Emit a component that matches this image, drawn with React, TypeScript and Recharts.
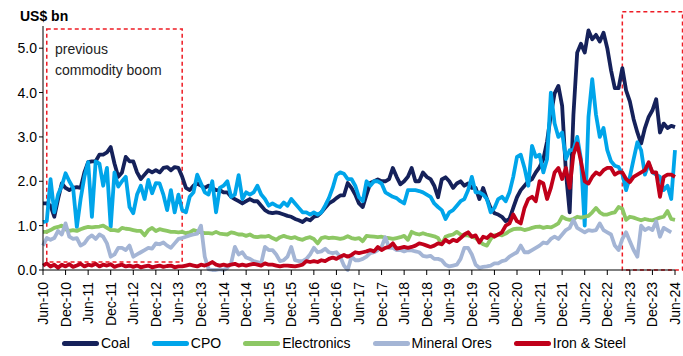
import React from 'react';
import { LineChart, Line, XAxis, YAxis, ReferenceArea } from 'recharts';

// Monthly exports, Jun-10 .. Jun-24 (169 months), US$ bn
const tickLabels = [
  'Jun-10', 'Dec-10', 'Jun-11', 'Dec-11', 'Jun-12', 'Dec-12', 'Jun-13', 'Dec-13', 'Jun-14', 'Dec-14',
  'Jun-15', 'Dec-15', 'Jun-16', 'Dec-16', 'Jun-17', 'Dec-17', 'Jun-18', 'Dec-18', 'Jun-19', 'Dec-19',
  'Jun-20', 'Dec-20', 'Jun-21', 'Dec-21', 'Jun-22', 'Dec-22', 'Jun-23', 'Dec-23', 'Jun-24',
];

const coal = [
  1.5, 1.5, 1.45, 1.2, 1.6, 1.95, 1.85, 1.8, 1.85, 1.87,
  1.85, 2.2, 2.43, 2.45, 2.45, 2.6, 2.6, 2.65, 2.77, 2.4,
  2.1, 2.2, 2.55, 2.45, 2.45, 2.2, 2.05, 2.15, 2.25, 2.2,
  2.25, 2.2, 2.3, 2.32, 2.25, 2.32, 2.3, 2.1, 1.85, 1.8,
  1.9, 1.95, 1.9, 1.85, 1.9, 1.85, 1.8, 1.8, 1.75, 1.75,
  1.65, 1.6, 1.55, 1.5, 1.55, 1.6, 1.55, 1.55, 1.45, 1.35,
  1.3, 1.28, 1.3, 1.28, 1.25, 1.22, 1.2, 1.15, 1.12, 1.08,
  1.15, 1.12, 1.2, 1.22, 1.3, 1.4, 1.5, 1.55, 1.62, 1.68,
  1.68, 1.96, 1.85, 1.7, 1.5, 1.42, 1.7, 1.96, 2.0, 2.04,
  2.0, 2.0, 2.05, 2.3, 2.1, 1.93, 2.0, 2.1, 2.3, 2.0,
  2.0, 2.2, 2.1, 2.05, 1.9, 1.64, 2.04, 2.09, 2.0, 1.85,
  1.95, 2.0, 1.9, 1.95, 1.85, 1.85, 1.6, 1.85, 1.6, 1.4,
  1.28, 1.25, 1.2, 1.1, 1.15, 1.4, 1.64, 1.8, 1.9, 2.0,
  2.05, 2.2, 2.32, 2.5, 2.9, 3.5, 3.98, 4.15, 3.7, 2.2,
  1.3, 3.5, 4.9, 5.1, 4.9, 5.4, 5.2, 5.3, 5.15, 5.35,
  5.0, 4.5, 4.1, 4.1, 4.55, 4.05, 3.8, 3.4, 3.1, 2.85,
  3.2, 3.45, 3.6, 3.85, 3.1, 3.3, 3.2, 3.25, 3.22,
];

const cpo = [
  1.08, 1.1, 2.05, 1.3, 1.7, 1.9, 2.18, 2.0, 1.85, 0.97,
  1.6, 2.1, 2.43, 1.2, 2.45, 2.4, 1.9, 2.3, 0.97, 2.2,
  1.88, 2.0, 2.1, 1.42, 1.28, 1.7, 1.9, 1.6, 2.03, 1.73,
  1.96, 1.95, 1.7, 1.35, 1.8, 1.3, 1.7, 1.35, 1.3, 1.65,
  1.75, 2.15, 1.95, 1.75, 1.7, 2.0, 1.3, 1.85, 1.9, 2.0,
  1.65, 1.7, 2.14, 1.6, 1.75, 1.7, 1.75, 1.9, 1.7, 1.6,
  1.45, 1.5, 1.45, 1.42, 1.52, 1.45, 1.6, 1.5, 1.4, 1.3,
  1.3, 1.25, 1.3, 1.25, 1.3, 1.45, 1.62, 1.85, 2.14, 2.2,
  2.17, 2.05, 2.05, 1.9, 1.64, 1.55, 2.0, 1.9, 2.0, 2.0,
  1.95, 1.75, 1.7, 1.65, 1.62, 1.55, 1.5, 1.8, 1.8, 1.8,
  1.78, 1.75, 1.7, 1.65, 1.5, 1.42, 1.35, 1.15, 1.3, 1.35,
  1.45, 1.55, 1.6, 1.8, 2.1, 1.75, 1.75, 1.7, 1.6, 1.3,
  1.4, 1.6, 1.65, 1.55, 1.75, 2.1, 2.55, 2.6, 2.3, 1.9,
  2.8, 2.55, 2.6, 2.2, 2.5, 4.0, 3.3, 3.0, 3.1, 2.5,
  2.7, 2.7, 3.0, 2.5, 1.0, 3.45, 4.3, 3.5, 3.0, 3.2,
  2.7, 2.45, 2.35, 2.32, 2.17, 1.8, 2.1, 2.5, 2.88, 2.7,
  2.15, 2.4, 2.2, 2.15, 2.1, 1.8, 1.9, 1.6, 2.7,
];

const electronics = [
  0.86, 0.86, 0.9, 0.95, 0.97, 1.0, 0.92,
  0.88, 0.9, 0.88, 0.92, 0.95, 0.97,
  0.96, 0.97, 0.98, 1.0, 0.95, 0.9,
  0.9, 0.88, 0.95, 0.93, 0.92, 0.9,
  0.88, 0.88, 0.78, 0.9, 0.95, 0.88,
  0.92, 0.9, 0.88, 0.86, 0.86, 0.85,
  0.86, 0.83, 0.85, 0.9, 0.87, 0.85,
  0.83, 0.83, 0.82, 0.86, 0.82, 0.81,
  0.8, 0.85, 0.83, 0.8, 0.8, 0.77,
  0.8, 0.75, 0.74, 0.76, 0.75, 0.77,
  0.72, 0.68, 0.74, 0.77, 0.74, 0.72,
  0.74, 0.7, 0.68, 0.72, 0.74, 0.7,
  0.6, 0.72, 0.74, 0.72, 0.73, 0.72,
  0.7, 0.72, 0.76, 0.72, 0.7, 0.72,
  0.65, 0.77, 0.76, 0.75, 0.74, 0.75,
  0.73, 0.72, 0.7, 0.72, 0.74, 0.77,
  0.68, 0.86, 0.82, 0.8, 0.83, 0.8,
  0.78, 0.76, 0.72, 0.58, 0.75, 0.78,
  0.8, 0.86, 0.8, 0.78, 0.78, 0.75,
  0.72, 0.65, 0.58, 0.55, 0.7, 0.78,
  0.8, 0.78, 0.82, 0.88, 0.92, 0.93,
  0.93, 0.9, 0.92, 0.95, 0.97, 0.98,
  0.95, 0.97, 0.96, 1.0, 1.05, 1.2,
  1.15, 1.13, 1.15, 1.2, 1.18, 1.2,
  1.22, 1.3, 1.4, 1.3, 1.25, 1.25,
  1.28, 1.3, 1.42, 1.38, 1.13, 1.2,
  1.18, 1.15, 1.12, 1.15, 1.13, 1.12,
  1.15, 1.18, 1.2, 1.33, 1.15, 1.13,
];

const mineralOres = [
  0.55, 0.72, 0.68, 0.72, 0.88, 0.8, 1.05, 0.75, 0.7, 0.72,
  0.55, 0.6, 0.72, 0.78, 0.7, 0.8, 0.75, 0.6, 0.3, 0.35,
  0.5, 0.5, 0.45, 0.55, 0.3, 0.35, 0.4, 0.45, 0.5, 0.48,
  0.6, 0.58, 0.62, 0.55, 0.5, 0.6, 0.7, 0.72, 0.75, 0.78,
  0.8, 0.82, 1.0, 0.3, 0.02, 0.0, 0.0, 0.02, 0.0, 0.05,
  0.15, 0.52, 0.35, 0.4, 0.28, 0.25, 0.2, 0.18, 0.15, 0.52,
  0.45, 0.45, 0.35, 0.2, 0.22, 0.3, 0.52, 0.22, 0.2, 0.2,
  0.25, 0.35, 0.5, 0.4, 0.42, 0.48, 0.4, 0.38, 0.4, 0.3,
  0.1, 0.0, 0.3, 0.22, 0.22, 0.25, 0.3, 0.38, 0.4, 0.45,
  0.52, 0.74, 0.5, 0.5, 0.45, 0.45, 0.42, 0.45, 0.44, 0.42,
  0.4, 0.32, 0.3, 0.32, 0.25, 0.25, 0.22, 0.12, 0.08, 0.1,
  0.12, 0.25, 0.5, 0.5, 0.35, 0.12, 0.05, 0.07, 0.08, 0.1,
  0.15, 0.15, 0.2, 0.22, 0.3, 0.35, 0.4, 0.55, 0.4, 0.4,
  0.45, 0.5, 0.55, 0.62, 0.6, 0.7, 0.75, 0.7, 0.8, 0.9,
  0.95, 1.13, 0.95, 0.9, 0.85, 0.9, 0.88, 0.9, 1.05, 0.9,
  0.85, 0.8, 0.55, 0.45, 0.7, 0.85, 0.65, 0.45, 0.3, 1.0,
  0.9, 0.95, 0.9, 1.1, 0.75, 0.95, 0.9, 0.85, null,
];

const ironSteel = [
  0.1, 0.15, 0.08, 0.12, 0.05, 0.12, 0.08,
  0.13, 0.07, 0.1, 0.14, 0.08, 0.12,
  0.1, 0.14, 0.08, 0.12, 0.1, 0.13,
  0.07, 0.1, 0.12, 0.08, 0.1, 0.07,
  0.1, 0.06, 0.08, 0.1, 0.06, 0.08,
  0.1, 0.07, 0.09, 0.1, 0.06, 0.08,
  0.08, 0.1, 0.12, 0.1, 0.08, 0.12,
  0.1, 0.13, 0.18, 0.12, 0.1, 0.12,
  0.1, 0.12, 0.14, 0.1, 0.12, 0.1,
  0.12, 0.14, 0.12, 0.1, 0.15, 0.12,
  0.12, 0.1, 0.08, 0.1, 0.1, 0.09,
  0.08, 0.1, 0.12, 0.2, 0.18, 0.2,
  0.18, 0.22, 0.2, 0.25, 0.28, 0.25,
  0.3, 0.34, 0.3, 0.34, 0.4, 0.38,
  0.4, 0.42, 0.45, 0.42, 0.52, 0.45,
  0.5, 0.52, 0.6, 0.48, 0.5, 0.52,
  0.5, 0.52, 0.55, 0.6, 0.58, 0.55,
  0.52, 0.55, 0.6, 0.58, 0.68, 0.62,
  0.68, 0.65, 0.72, 0.8, 0.85, 0.75,
  0.78, 0.62, 0.75, 0.72, 0.8, 0.75,
  0.8, 0.85, 1.0, 1.05, 1.25, 1.1,
  1.05, 1.4, 1.6, 1.65, 1.55, 2.0,
  1.95, 1.6, 1.85, 2.2, 2.3, 2.05,
  2.3, 1.85, 2.6, 2.85, 2.45, 2.0,
  1.95, 2.1, 2.2, 2.15, 2.25, 2.3,
  2.3, 2.15, 2.2, 2.2, 2.05, 1.98,
  2.1, 2.15, 2.2, 2.25, 2.43, 2.2,
  2.2, 1.65, 2.1, 2.15, 2.15, 2.1,
];

const series = [
  { key: 'coal', name: 'Coal', color: '#15215a', values: coal },
  { key: 'cpo', name: 'CPO', color: '#00a5ea', values: cpo },
  { key: 'electronics', name: 'Electronics', color: '#8dc764', values: electronics },
  { key: 'mineral', name: 'Mineral Ores', color: '#a4b5d5', values: mineralOres },
  { key: 'iron', name: 'Iron & Steel', color: '#c0001a', values: ironSteel },
];

const chartData = coal.map((_, i) => {
  const row: Record<string, number | null> = { m: i };
  series.forEach((s) => { row[s.key] = s.values[i] ?? null; });
  return row;
});

const xTicks = tickLabels.map((_, i) => i * 6);
const FONT = "'Liberation Sans', Arial, sans-serif";

const XTick = ({ x, y, payload }: any) => (
  <text
    x={x + 5}
    y={y}
    transform={`rotate(-90, ${x + 5}, ${y})`}
    textAnchor="end"
    fontSize={14}
    fontFamily={FONT}
    fill="#000"
  >
    {tickLabels[payload.value / 6]}
  </text>
);

export default function App() {
  return (
    <div style={{ position: 'absolute', left: 0, top: 0, width: 683, height: 356, background: '#fff', fontFamily: FONT }}>
      <LineChart width={683} height={356} data={chartData} margin={{ top: 26, right: 8, bottom: 0, left: 0 }}>
        <XAxis
          dataKey="m"
          type="number"
          domain={[0, 168]}
          ticks={xTicks}
          interval={0}
          height={86}
          tickSize={5}
          tickMargin={7}
          stroke="#000"
          tick={<XTick />}
        />
        <YAxis
          domain={[0, 5.5]}
          ticks={[0, 1, 2, 3, 4, 5]}
          width={43}
          tickSize={4}
          tickMargin={2}
          stroke="#000"
          tick={{ fontSize: 14, fill: '#000', fontFamily: FONT }}
          tickFormatter={(v: number) => v.toFixed(1)}
        />
        <ReferenceArea x1={1} x2={37} y1={0.18} y2={5.43} ifOverflow="visible"
          fill="none" stroke="#ee1c25" strokeWidth={1.5} strokeDasharray="4 3" />
        <ReferenceArea x1={154} x2={170} y1={0} y2={5.82} ifOverflow="visible"
          fill="none" stroke="#ee1c25" strokeWidth={1.5} strokeDasharray="4 3" />
        {series.map((s) => (
          <Line
            key={s.key}
            dataKey={s.key}
            name={s.name}
            stroke={s.color}
            strokeWidth={3.8}
            strokeLinejoin="round"
            dot={false}
            activeDot={false}
            type="linear"
            isAnimationActive={false}
          />
        ))}
      </LineChart>

      <div style={{ position: 'absolute', left: 20, top: 8, fontSize: 14, fontWeight: 'bold', color: '#000' }}>US$ bn</div>
      <div style={{ position: 'absolute', left: 55, top: 39, fontSize: 14, lineHeight: '21px', color: '#222' }}>
        previous<br />commodity boom
      </div>

      <div style={{ position: 'absolute', left: 62, top: 334, height: 18, display: 'flex', alignItems: 'center', gap: 22, fontSize: 14, color: '#000' }}>
        {series.map((s) => (
          <div key={s.key} style={{ display: 'flex', alignItems: 'center' }}>
            <span style={{ display: 'inline-block', width: 37, height: 5, borderRadius: 2.5, background: s.color, marginRight: 2 }} />
            <span>{s.name}</span>
          </div>
        ))}
      </div>
    </div>
  );
}
